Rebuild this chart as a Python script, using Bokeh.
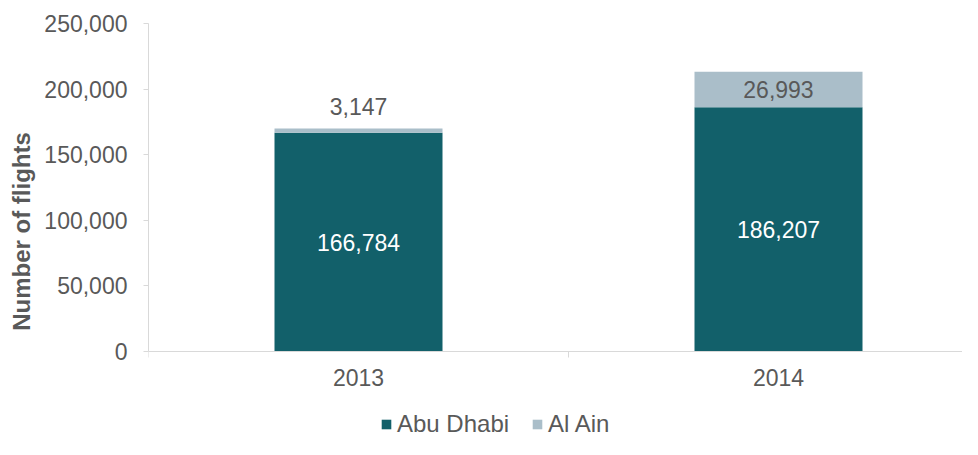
from bokeh.plotting import figure
from bokeh.models import (ColumnDataSource, FixedTicker, NumeralTickFormatter, Range1d,
                          Legend, LegendItem, LabelSet)
from bokeh.core.properties import value
from bokeh.embed import file_html
from bokeh.resources import INLINE

# ---- data ----
years = ["2013", "2014"]
abu_dhabi = [166784, 186207]
al_ain = [3147, 26993]
series = ["Abu Dhabi", "Al Ain"]
colors = ["#12606A", "#AABEC9"]
y_ticks = [0, 50000, 100000, 150000, 200000, 250000]

FONT = "Liberation Sans"
GREY = "#595959"
AXIS = "#D9D9D9"

# layout geometry (pixels)
W, H = 962, 439
LEFT, TOP = 148, 23
PLOT_H = 328              # height of the value area (0 .. 250,000)
CAT_W = 420               # pixel width of one category
FW = W - LEFT
FH = H - TOP
below = FH - PLOT_H       # room under the zero line for year labels and legend

x = [i + 0.5 for i in range(len(years))]
boundaries = [float(i) for i in range(len(years) + 1)]

source = ColumnDataSource(dict(x=x, year=years, **{"Abu Dhabi": abu_dhabi, "Al Ain": al_ain}))

# label positions derived from values
ad_lab = ColumnDataSource(dict(
    x=x,
    y=[v / 2 for v in abu_dhabi],
    text=[f"{v:,}" for v in abu_dhabi],
))
small = [b < 0.05 * y_ticks[-1] for b in al_ain]
al_lab = ColumnDataSource(dict(
    x=x,
    y=[a + b if s else a + b / 2 for a, b, s in zip(abu_dhabi, al_ain, small)],
    off=[22 if s else 0 for s in small],
    text=[f"{v:,}" for v in al_ain],
))

y_top = y_ticks[-1]
y_bottom = -below / PLOT_H * y_top

p = figure(width=W, height=H,
           x_range=Range1d(0, FW / CAT_W), y_range=Range1d(y_bottom, y_top),
           output_backend="svg", toolbar_location=None,
           min_border_left=LEFT, min_border_right=0, min_border_top=TOP, min_border_bottom=0)
p.outline_line_color = None
p.xgrid.visible = False
p.ygrid.visible = False

rs = p.vbar_stack(series, x="x", width=0.4, color=colors, line_color=None, source=source)

p.add_layout(LabelSet(x="x", y="y", text="text", source=ad_lab, text_align="center",
                      text_baseline="middle", text_color="white",
                      text_font=value(FONT), text_font_size="23px"))
p.add_layout(LabelSet(x="x", y="y", text="text", source=al_lab, text_align="center",
                      text_baseline="middle", y_offset="off", text_color=GREY,
                      text_font=value(FONT), text_font_size="23px"))

# x axis drawn at the zero line
xa = p.xaxis[0]
xa.fixed_location = 0
xa.ticker = FixedTicker(ticks=x, minor_ticks=boundaries)
xa.major_label_overrides = {xv: y for xv, y in zip(x, years)}
xa.major_tick_line_color = None
xa.major_tick_out = 0
xa.major_tick_in = 0
xa.minor_tick_line_color = AXIS
xa.minor_tick_out = 6
xa.minor_tick_in = 0
xa.axis_line_color = AXIS
xa.major_label_standoff = 11
xa.major_label_text_font = FONT
xa.major_label_text_font_size = "23px"
xa.major_label_text_color = GREY

# y axis
ya = p.yaxis[0]
ya.bounds = (0, y_top)
ya.ticker = FixedTicker(ticks=y_ticks)
ya.formatter = NumeralTickFormatter(format="0,0")
ya.axis_line_color = AXIS
ya.major_tick_line_color = AXIS
ya.major_tick_out = 5
ya.major_tick_in = 0
ya.minor_tick_line_color = None
ya.major_label_standoff = 16
ya.major_label_text_font = FONT
ya.major_label_text_font_size = "23px"
ya.major_label_text_color = GREY
ya.axis_label = "Number of flights"
ya.axis_label_text_font = FONT
ya.axis_label_text_font_size = "24px"
ya.axis_label_text_font_style = "bold"
ya.axis_label_text_color = GREY
ya.axis_label_standoff = 6

legend = Legend(items=[LegendItem(label=s, renderers=[r]) for s, r in zip(series, rs)],
                orientation="horizontal", location=(232, 1),
                border_line_color=None, background_fill_alpha=0,
                label_text_font=FONT, label_text_font_size="24px", label_text_color=GREY,
                glyph_width=12, glyph_height=12, label_standoff=5, spacing=22,
                padding=0, margin=0)
p.add_layout(legend, "center")

open("out.html", "w").write(file_html(p, INLINE))
